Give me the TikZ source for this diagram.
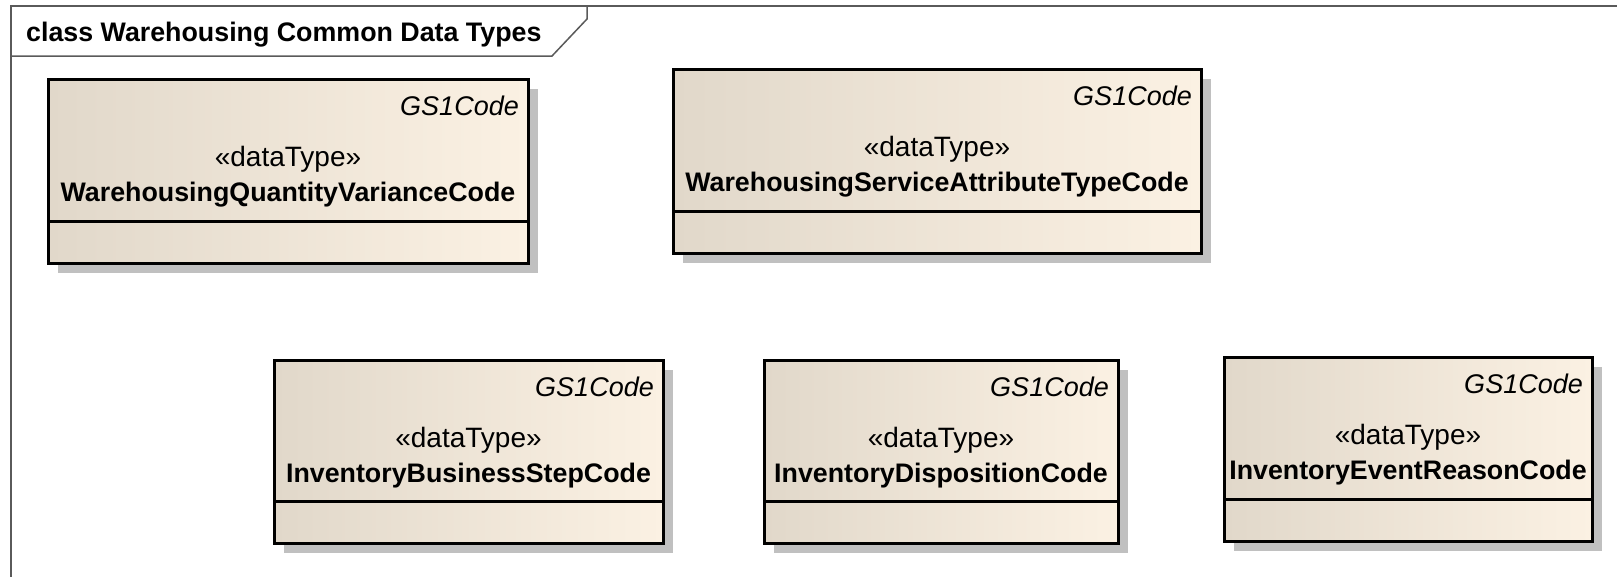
\documentclass[tikz,border=0pt]{standalone}
\usepackage{fontspec}
\setmainfont{Liberation Sans}
\usetikzlibrary{positioning,calc,shadows}
\definecolor{dtleft}{RGB}{225,216,202}
\definecolor{dtmid}{RGB}{246,236,222}
\definecolor{dtright}{RGB}{251,241,227}
\definecolor{framegray}{RGB}{90,90,90}
\definecolor{shadowgray}{RGB}{192,192,192}

\begin{document}
\begin{tikzpicture}[x=1pt, y=-1pt,
    dtype/.style={rectangle, draw, line width=3pt, outer sep=0pt, inner sep=0pt,
        left color=dtleft, middle color=dtmid, right color=dtright,
        drop shadow={shadow xshift=10pt, shadow yshift=-10pt, fill=shadowgray, opacity=1}},
    tagged/.style={font=\fontsize{27}{32}\selectfont\itshape, anchor=base east, inner sep=0pt},
    stereo/.style={font=\fontsize{28}{32}\selectfont, anchor=base, inner sep=0pt},
    cname/.style={font=\fontsize{26.8}{32}\selectfont\bfseries, anchor=base, inner sep=0pt},
    divider/.style={line width=3pt},
    frameline/.style={draw=framegray, line width=1.5pt}
]
\useasboundingbox (0,0) rectangle (1617,576);
\clip (0,0) rectangle (1617,576);

% diagram frame and its name tab
\draw[frameline] (11,600) -- (11,6) -- (1640,6);
\draw[frameline] (11,56) -- (552,56) -- (587,19) -- (587,6);
\node[anchor=base west, inner sep=0pt, font=\fontsize{26.8}{32}\selectfont\bfseries] (title) at (26,41) {class Warehousing Common Data Types};

% top row
\node[dtype, minimum width=480pt, minimum height=184pt] (wqv) at (288,171) {};
\node[tagged] (wqvtag) at ($(wqv.north east)+(-9,36)$) {GS1Code};
\node[stereo] (wqvst) at ($(wqv.north)+(0,87)$) {«dataType»};
\node[cname] (wqvname) at ($(wqv.north)+(0,122)$) {WarehousingQuantityVarianceCode};
\draw[divider] ($(wqv.south west)+(0,-42)$) -- ($(wqv.south east)+(0,-42)$);

\node[dtype, minimum width=528pt, minimum height=184pt] (wsat) at (937,161) {};
\node[tagged] (wsattag) at ($(wsat.north east)+(-9,36)$) {GS1Code};
\node[stereo] (wsatst) at ($(wsat.north)+(0,87)$) {«dataType»};
\node[cname] (wsatname) at ($(wsat.north)+(0,122)$) {WarehousingServiceAttributeTypeCode};
\draw[divider] ($(wsat.south west)+(0,-42)$) -- ($(wsat.south east)+(0,-42)$);

% bottom row
\node[dtype, minimum width=389pt, minimum height=183pt] (ibs) at (468.5,451.5) {};
\node[tagged] (ibstag) at ($(ibs.north east)+(-9,36)$) {GS1Code};
\node[stereo] (ibsst) at ($(ibs.north)+(0,87)$) {«dataType»};
\node[cname] (ibsname) at ($(ibs.north)+(0,122)$) {InventoryBusinessStepCode};
\draw[divider] ($(ibs.south west)+(0,-42)$) -- ($(ibs.south east)+(0,-42)$);

\node[dtype, minimum width=354pt, minimum height=183pt] (idc) at (941,451.5) {};
\node[tagged] (idctag) at ($(idc.north east)+(-9,36)$) {GS1Code};
\node[stereo] (idcst) at ($(idc.north)+(0,87)$) {«dataType»};
\node[cname] (idcname) at ($(idc.north)+(0,122)$) {InventoryDispositionCode};
\draw[divider] ($(idc.south west)+(0,-42)$) -- ($(idc.south east)+(0,-42)$);

\node[dtype, minimum width=368pt, minimum height=184pt] (ier) at (1408,449) {};
\node[tagged] (iertag) at ($(ier.north east)+(-9,36)$) {GS1Code};
\node[stereo] (ierst) at ($(ier.north)+(0,87)$) {«dataType»};
\node[cname] (iername) at ($(ier.north)+(0,122)$) {InventoryEventReasonCode};
\draw[divider] ($(ier.south west)+(0,-42)$) -- ($(ier.south east)+(0,-42)$);
\end{tikzpicture}
\end{document}
